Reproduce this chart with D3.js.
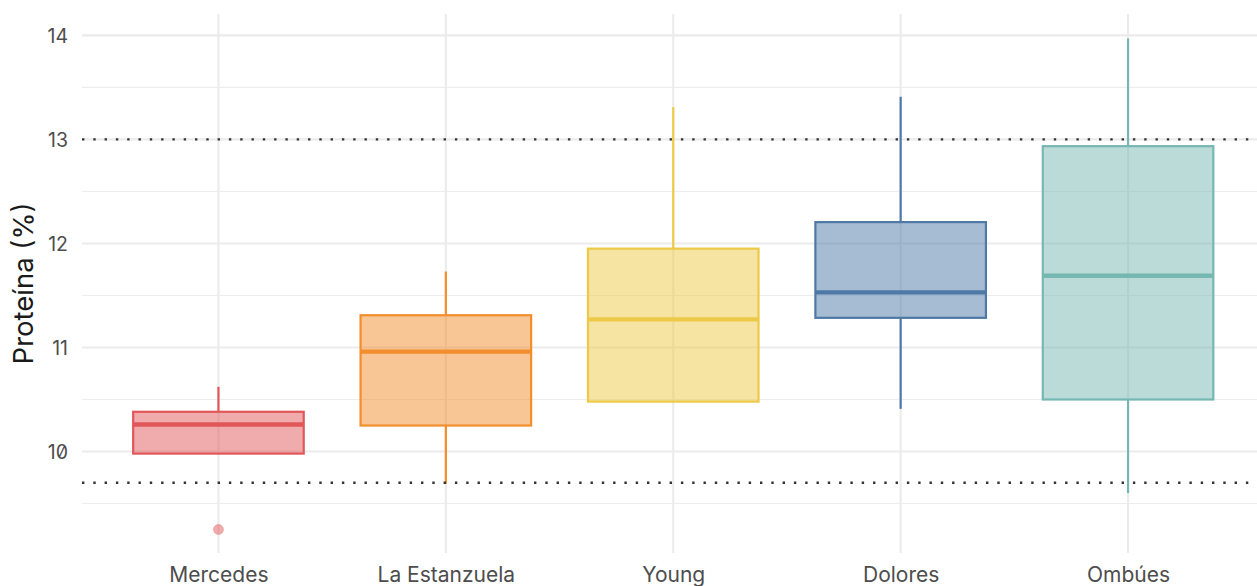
<!DOCTYPE html>
<html><head><meta charset="utf-8">
<script src="https://cdn.jsdelivr.net/npm/d3@7"></script>
<style>
html,body{margin:0;padding:0;background:#fff;}
svg{display:block;font-family:"Inter","Noto Sans",sans-serif;font-feature-settings:"zero" 1;}
</style></head>
<body><svg id="c" width="1257" height="586"></svg>
<script>
const categories = ["Mercedes","La Estanzuela","Young","Dolores","Ombúes"];
const colors = ["#E15759","#F28E2B","#EDC948","#4E79A7","#76B7B2"];
const whiskerLow = [9.98, 9.69, 10.48, 10.41, 9.60];
const q1 = [9.98, 10.25, 10.48, 11.285, 10.50];
const median = [10.26, 10.96, 11.27, 11.53, 11.69];
const q3 = [10.382, 11.31, 11.95, 12.205, 12.935];
const whiskerHigh = [10.622, 11.73, 13.31, 13.41, 13.97];
const outliers = [["Mercedes", 9.25]];
const yTicks = [10, 11, 12, 13, 14];
const yMinor = [9.5, 10.5, 11.5, 12.5, 13.5];
const refLines = [13, 9.7];
const yDomain = [9.0245, 14.2055];

(function(){
const svg = d3.select("#c");
const pL = 82, pR = 1264.5, pT = 14, pB = 553;

const x = d3.scalePoint().domain(categories).range([pL, pR]).padding(0.6);
const y = d3.scaleLinear().domain(yDomain).range([pB, pT]);
const step = x.step();
const bw = step * 0.75;

const g = svg.append("g");
g.selectAll(".minor").data(yMinor).join("line").attr("class","minor")
  .attr("x1", pL).attr("x2", 1257).attr("y1", d=>y(d)).attr("y2", d=>y(d))
  .attr("stroke", "#ededed").attr("stroke-width", 1.1);
g.selectAll(".major").data(yTicks).join("line").attr("class","major")
  .attr("x1", pL).attr("x2", 1257).attr("y1", d=>y(d)).attr("y2", d=>y(d))
  .attr("stroke", "#ebebeb").attr("stroke-width", 2.1);
g.selectAll(".vgrid").data(categories).join("line").attr("class","vgrid")
  .attr("x1", d=>x(d)).attr("x2", d=>x(d)).attr("y1", pT).attr("y2", pB)
  .attr("stroke", "#ebebeb").attr("stroke-width", 2.1);

const yAxis = d3.axisLeft(y).tickValues(yTicks).tickSize(0).tickPadding(0).tickFormat(d3.format("d"));
const ya = svg.append("g").attr("transform", `translate(${pL-14},0)`).call(yAxis);
ya.select(".domain").remove();
ya.selectAll("text").attr("font-size", 19.5).attr("fill", "#4d4d4d").attr("font-family", "Inter, sans-serif").attr("dy","0.36em");

const xAxis = d3.axisBottom(x).tickSize(0).tickPadding(0);
const xa = svg.append("g").attr("transform", `translate(0,${pB+29})`).call(xAxis);
xa.select(".domain").remove();
xa.selectAll("text").attr("font-size", 21).attr("fill", "#4d4d4d").attr("font-family", "Inter, sans-serif").attr("dy", null).attr("y", 0);

svg.append("text").attr("transform", `translate(33,${(pT+pB)/2}) rotate(-90)`)
  .attr("text-anchor", "middle").attr("font-size", 27.5).attr("fill", "#1a1a1a").text("Proteína (%)");

const data = categories.map((c,i)=>({c, col: colors[i], lo: whiskerLow[i], q1: q1[i], med: median[i], q3: q3[i], hi: whiskerHigh[i]}));
const b = svg.append("g").selectAll("g").data(data).join("g");
b.append("line").attr("x1", d=>x(d.c)).attr("x2", d=>x(d.c)).attr("y1", d=>y(d.hi)).attr("y2", d=>y(d.q3))
  .attr("stroke", d=>d.col).attr("stroke-width", 2.2);
b.append("line").attr("x1", d=>x(d.c)).attr("x2", d=>x(d.c)).attr("y1", d=>y(d.q1)).attr("y2", d=>y(d.lo))
  .attr("stroke", d=>d.col).attr("stroke-width", 2.2);
b.append("rect").attr("x", d=>x(d.c)-bw/2).attr("width", bw).attr("y", d=>y(d.q3)).attr("height", d=>y(d.q1)-y(d.q3))
  .attr("fill", d=>d.col).attr("fill-opacity", 0.5).attr("stroke", d=>d.col).attr("stroke-width", 2.2);
b.append("line").attr("x1", d=>x(d.c)-bw/2).attr("x2", d=>x(d.c)+bw/2).attr("y1", d=>y(d.med)).attr("y2", d=>y(d.med))
  .attr("stroke", d=>d.col).attr("stroke-width", 4.4);

svg.append("g").selectAll("circle").data(outliers).join("circle")
  .attr("cx", d=>x(d[0])).attr("cy", d=>y(d[1])).attr("r", 5)
  .attr("fill", d=>colors[categories.indexOf(d[0])]).attr("fill-opacity", 0.5)
  .attr("stroke", d=>colors[categories.indexOf(d[0])]).attr("stroke-opacity", 0.3);

svg.append("g").selectAll("line").data(refLines).join("line")
  .attr("x1", pL).attr("x2", 1257).attr("y1", d=>y(d)).attr("y2", d=>y(d))
  .attr("stroke", "#333").attr("stroke-width", 2.4).attr("stroke-dasharray", "2.4 8.9");
})();
</script></body></html>
